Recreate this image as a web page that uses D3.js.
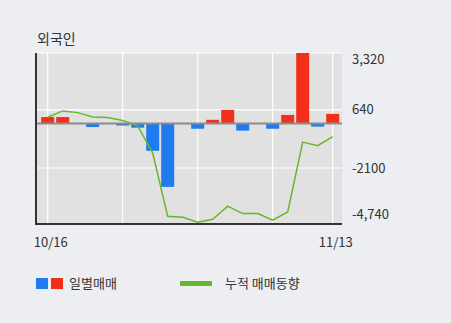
<!DOCTYPE html>
<html>
<head>
<meta charset="utf-8">
<script src="https://cdn.jsdelivr.net/npm/d3@7"></script>
<style>
  html, body { margin: 0; padding: 0; background: #eceef2; }
  svg { display: block; font-family: "Noto Sans CJK KR", "Noto Sans", sans-serif; }
</style>
</head>
<body>
<svg id="chart" width="451" height="323"></svg>
<script>
// données
const dates = ["10/16","10/17","10/18","10/21","10/22","10/23","10/24","10/25","10/28","10/29",
               "10/30","10/31","11/01","11/04","11/05","11/06","11/07","11/08","11/12","11/13"];
const journalier = [300, 300, -30, -170, -25, -100, -200, -1290, -2990, -30,
                    -250, 170, 640, -340, 0, -250, 400, 3320, -150, 450];
const cumul = [290, 590, 510, 300, 280, 140, -110, -1400, -4380, -4420,
               -4660, -4520, -3900, -4250, -4250, -4560, -4170, -880, -1050, -620];
const yTicks = [3320, 640, -2100, -4740];
const yTickLabels = ["3,320", "640", "-2100", "-4,740"];
const xTicks = ["10/16", "11/13"];
const xGrid = ["10/16", "10/23", "10/30", "11/06", "11/13"];

const svg = d3.select("#chart");
const gauche = 36, droite = 342, haut = 53, bas = 224;

const x = d3.scalePoint().domain(dates).range([47.7, 332.7]);
const y = d3.scaleLinear().domain([-4740, 3320]).range([bas, haut]);

// fond du graphique
svg.append("rect").attr("x", gauche).attr("y", haut)
   .attr("width", droite - gauche).attr("height", bas - haut).attr("fill", "#e1e1e1");

// grille
svg.append("g").selectAll("line").data(yTicks.slice(0, 3)).join("line")
   .attr("x1", gauche).attr("x2", droite)
   .attr("y1", d => y(d)).attr("y2", d => y(d))
   .attr("stroke", "#fff").attr("stroke-width", 1.2);
svg.append("g").selectAll("line").data(xGrid).join("line")
   .attr("x1", d => x(d)).attr("x2", d => x(d))
   .attr("y1", haut).attr("y2", bas)
   .attr("stroke", "#fff").attr("stroke-width", 1.2);

// barres
const bw = 13;
svg.append("g").selectAll("rect").data(journalier.map((v, i) => ({ d: dates[i], v }))).join("rect")
   .attr("x", d => x(d.d) - bw / 2).attr("width", bw)
   .attr("y", d => y(Math.max(0, d.v)))
   .attr("height", d => Math.abs(y(d.v) - y(0)))
   .attr("fill", d => d.v >= 0 ? "#f2301a" : "#1f7bf0");

// ligne zéro
svg.append("line").attr("x1", gauche).attr("x2", droite)
   .attr("y1", y(0)).attr("y2", y(0))
   .attr("stroke", "#8c8c8c").attr("stroke-width", 2);

// cumul
svg.append("path").datum(cumul)
   .attr("fill", "none").attr("stroke", "#66b82a").attr("stroke-width", 1.5)
   .attr("d", d3.line().x((d, i) => x(dates[i])).y(d => y(d)));

// axes
svg.append("line").attr("x1", gauche).attr("x2", gauche).attr("y1", haut).attr("y2", bas + 1)
   .attr("stroke", "#333").attr("stroke-width", 2);
svg.append("line").attr("x1", gauche - 1).attr("x2", droite).attr("y1", bas).attr("y2", bas)
   .attr("stroke", "#333").attr("stroke-width", 2);

// étiquettes Y (à droite, ramenées dans la zone)
svg.append("g").selectAll("text").data(yTicks).join("text")
   .attr("x", 352)
   .attr("y", (d, i) => Math.min(Math.max(y(d), haut + 6), bas - 10))
   .attr("dy", "0.35em").attr("font-size", 13).attr("fill", "#333")
   .text((d, i) => yTickLabels[i]);

// étiquettes X
svg.append("g").selectAll("text").data(xTicks).join("text")
   .attr("x", d => x(d) + 3).attr("y", 242).attr("dy", "0.35em")
   .attr("text-anchor", "middle").attr("font-size", 13).attr("fill", "#333")
   .text(d => d);

// titre
svg.append("text").attr("x", 37).attr("y", 44).attr("font-size", 14).attr("fill", "#333").text("외국인");

// légende
const lg = svg.append("g");
lg.append("rect").attr("x", 36).attr("y", 278).attr("width", 12).attr("height", 11).attr("fill", "#1f7bf0");
lg.append("rect").attr("x", 51).attr("y", 278).attr("width", 12).attr("height", 11).attr("fill", "#f2301a");
lg.append("text").attr("x", 69).attr("y", 283.5).attr("dy", "0.35em").attr("font-size", 13).attr("fill", "#333").text("일별매매");
lg.append("line").attr("x1", 180).attr("x2", 212).attr("y1", 283.5).attr("y2", 283.5)
  .attr("stroke", "#66b82a").attr("stroke-width", 5);
lg.append("text").attr("x", 225).attr("y", 283.5).attr("dy", "0.35em").attr("font-size", 13).attr("fill", "#333").text("누적 매매동향");
</script>
</body>
</html>
